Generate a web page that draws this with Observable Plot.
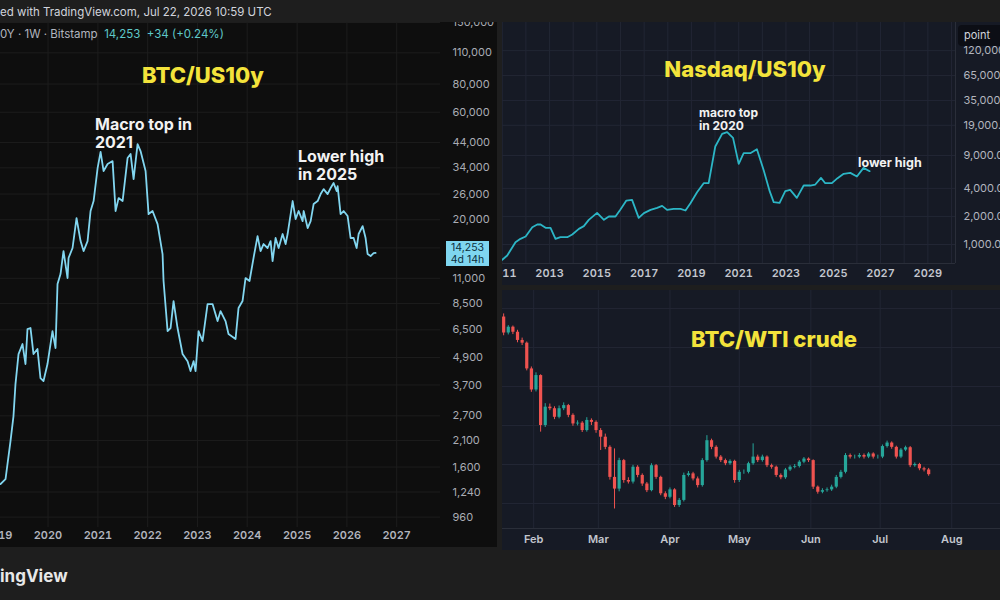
<!DOCTYPE html>
<html><head><meta charset="utf-8">
<script src="https://cdn.jsdelivr.net/npm/d3@7"></script>
<script src="https://cdn.jsdelivr.net/npm/@observablehq/plot@0.6"></script>
<style>
html,body{margin:0;padding:0;background:#1e1e1e;width:1000px;height:600px;overflow:hidden;font-family:Inter,Roboto,"Noto Sans",sans-serif;}
.panel{position:absolute;overflow:hidden;}
.ov{position:absolute;white-space:nowrap;}
.ann{position:absolute;white-space:nowrap;color:#f2f2f2;font-weight:700;}
.ttl{position:absolute;white-space:nowrap;color:#f3e33b;font-weight:800;font-size:22px;transform:translate(-50%,-50%);}
</style></head><body>
<div class="ov" style="left:0;top:5px;font-size:11.5px;color:#d1d4dc;">ed with TradingView.com, Jul 22, 2026 10:59 UTC</div>
<div id="left" class="panel" style="left:0;top:22px;width:497px;height:525px;background:#0e0e0e;"></div>
<div id="nas" class="panel" style="left:502px;top:22px;width:498px;height:263px;background:#161a25;"></div>
<div id="wti" class="panel" style="left:502px;top:290px;width:498px;height:260px;background:#161a25;"></div>
<div class="ov" style="left:0;top:566px;font-size:17px;font-weight:700;color:#e8e8e8;">ingView</div>
<script>
// ---------- DATA ----------
const btcYears = [2019.046,2019.147,2019.247,2019.307,2019.347,2019.408,2019.488,2019.548,2019.588,2019.649,2019.709,2019.789,2019.849,2019.910,2019.990,
2020.090,2020.151,2020.191,2020.251,2020.311,2020.392,2020.412,2020.492,2020.572,2020.653,2020.713,2020.793,2020.853,2020.914,2020.994,
2021.054,2021.114,2021.195,2021.295,2021.355,2021.416,2021.496,2021.596,2021.657,2021.717,2021.797,2021.857,2021.958,
2022.018,2022.098,2022.199,2022.299,2022.319,2022.400,2022.460,2022.520,2022.600,2022.701,2022.801,2022.861,2022.922,2022.962,
2023.022,2023.102,2023.203,2023.303,2023.404,2023.464,2023.564,2023.624,2023.765,2023.825,2023.906,2023.966,
2024.046,2024.126,2024.207,2024.267,2024.327,2024.408,2024.468,2024.508,2024.568,2024.629,2024.709,2024.769,2024.809,2024.910,2024.970,
2025.030,2025.110,2025.131,2025.211,2025.271,2025.331,2025.412,2025.472,2025.532,2025.612,2025.673,2025.733,2025.793,2025.813,2025.873,2025.934,
2026.014,2026.074,2026.135,2026.195,2026.235,2026.315,2026.375,2026.416,2026.476,2026.536,2026.576];
const btcValues = [1345,1415,2086,2694,3735,5075,5620,4582,6550,6619,5075,5340,3971,3851,4582,
6418,5395,10370,11490,14530,11030,13530,14990,20350,16090,14530,16090,21870,24220,33920,
40000,32900,35350,36420,21870,24960,24220,37560,39140,30310,43300,40350,32900,
21200,21870,19140,14090,10700,6418,6619,8720,6619,5075,4720,4265,4720,4265,
6418,5796,8457,8457,7107,7870,7107,6225,5915,8118,8720,11030,
10700,13530,16930,14530,15610,14990,16090,13120,16600,14990,17290,15610,17290,24220,20150,
21870,19730,21870,18380,19730,23480,24220,26000,27360,26000,27660,29110,26820,28220,21200,21870,
20780,16600,16600,14990,17290,18750,16600,14090,13800,14240,14253];
const btcTicks = [150000,110000,80000,60000,44000,34000,26000,20000,15000,11000,8500,6500,4900,3700,2700,2100,1600,1240,960];
const btcYearTicks = [2019,2020,2021,2022,2023,2024,2025,2026,2027];
const btcLast = 14253;

const nasYears = [2011.0,2011.21,2011.56,2011.77,2011.99,2012.27,2012.48,2012.62,2012.83,2013.04,2013.25,2013.46,2013.75,2013.96,
2014.24,2014.45,2014.66,2015.01,2015.30,2015.51,2015.79,2016.00,2016.25,2016.49,2016.77,2016.99,2017.27,2017.55,2017.76,2017.97,
2018.25,2018.54,2018.75,2018.96,2019.24,2019.52,2019.73,2020.01,2020.30,2020.51,2020.76,2021.00,2021.21,2021.49,2021.77,
2022.06,2022.31,2022.48,2022.73,2022.97,2023.18,2023.46,2023.75,2024.03,2024.24,2024.48,2024.66,2024.94,2025.18,2025.44,2025.72,
2026.00,2026.28,2026.54];
const nasValues = [685,762,1059,1150,1219,1534,1639,1639,1509,1509,1150,1198,1198,1280,
1472,1573,1838,2186,1838,1996,1996,2373,2963,3013,1931,2168,2354,2472,2598,2354,
2413,2413,2316,2775,3640,4546,4546,11240,15380,16020,13930,7330,9540,9540,10530,
6215,3732,2844,2798,3732,3857,3165,4292,4292,4399,5188,4546,4546,5144,5726,5869,
5360,6640,6115];
const nasTicks = [120000,65000,35000,19000,9000,4000,2000,1000];
const nasAxisYears = [2011,2013,2015,2017,2019,2021,2023,2025,2027,2029];
const nasGridYears = [2011,2012,2013,2014,2015,2016,2017,2018,2019,2020,2021,2022,2023,2024,2025,2026,2027,2028,2029,2030];

const wtiStart = "2026-01-19"; // first candle, candles every 2 days
const wtiOpen = [1478,1437,1452,1439,1418,1411,1345,1291,1328,1200,
1247,1243,1221,1243,1251,1226,1204,1206,1187,1213,
1208,1187,1170,1144,1067,1037,1110,1059,1055,1093,
1072,1050,1033,1097,1067,1025,1016,1035,995,1008,
1072,1076,1063,1046,1110,1161,1144,1119,1110,1102,
1108,1059,1080,1080,1102,1119,1110,1119,1097,1093,
1072,1066,1086,1093,1095,1106,1114,1110,1042,1029,
1033,1035,1042,1067,1080,1123,1119,1119,1123,1119,
1127,1119,1119,1146,1155,1144,1119,1137,1143,1097,
1100,1089,1086];
const wtiClose = [1437,1452,1439,1418,1411,1345,1291,1328,1200,1247,
1243,1221,1243,1251,1226,1204,1206,1187,1213,1208,
1187,1170,1144,1067,1037,1110,1059,1055,1093,1072,
1050,1033,1097,1067,1025,1016,1035,995,1008,1072,
1076,1063,1046,1110,1161,1144,1119,1110,1102,1108,
1059,1080,1080,1102,1119,1110,1119,1097,1093,1072,
1066,1086,1093,1095,1106,1114,1110,1042,1029,1033,
1035,1042,1067,1080,1123,1119,1119,1123,1119,1127,
1119,1119,1146,1155,1144,1119,1137,1143,1097,1100,
1089,1086,1074];
const wtiHigh = [1486,1456,1455,1444,1424,1414,1350,1335,1330,1256,
1255,1248,1250,1258,1254,1230,1212,1210,1220,1217,
1212,1192,1178,1148,1140,1116,1113,1066,1098,1097,
1076,1054,1102,1100,1070,1030,1040,1038,1013,1078,
1082,1080,1068,1115,1174,1165,1148,1123,1114,1112,
1111,1085,1086,1106,1153,1124,1124,1122,1101,1096,
1076,1090,1097,1100,1110,1118,1117,1112,1045,1038,
1040,1047,1072,1085,1128,1127,1124,1128,1127,1131,
1130,1124,1150,1160,1158,1147,1141,1147,1146,1104,
1103,1093,1090];
const wtiLow = [1430,1432,1433,1412,1405,1340,1285,1286,1183,1195,
1238,1215,1217,1238,1220,1198,1199,1182,1183,1200,
1180,1136,1138,1060,986,1030,1052,1050,1050,1066,
1044,1028,1030,1062,1020,1010,1012,990,990,1004,
1068,1058,1040,1042,1106,1138,1114,1105,1097,1098,
1052,1054,1075,1076,1098,1105,1106,1092,1088,1067,
1061,1062,1082,1089,1091,1102,1105,1036,1024,1025,
1029,1031,1038,1063,1076,1114,1114,1115,1114,1115,
1114,1114,1115,1142,1139,1114,1115,1133,1092,1093,
1084,1081,1070];
const wtiMonths = ["2026-02-01","2026-03-01","2026-04-01","2026-05-01","2026-06-01","2026-07-01","2026-08-01"];
const wtiGridValues = [1000,1100,1200,1300,1400,1500];

// ---------- HELPERS ----------
const yd = y => { const yr = Math.floor(y); const s = Date.UTC(yr,0,1), e = Date.UTC(yr+1,0,1); return new Date(s + (y-yr)*(e-s)); };
const font = "Inter, Roboto, sans-serif";
const DAY = 86400000;

// ---------- LEFT: BTC/US10y ----------
const btc = btcYears.map((y,i)=>({date: yd(y), value: btcValues[i]}));
const btcYearDates = btcYearTicks.map(y=>yd(y));
const leftPlot = Plot.plot({
  width: 497, height: 525, marginLeft: 0, marginRight: 57, marginTop: 0, marginBottom: 20,
  style: {background: "transparent", color: "#b2b5be", fontFamily: font, fontSize: "11px", overflow: "hidden"},
  x: {type: "utc", domain: [yd(2019.046), yd(2027.88)]},
  y: {type: "log", domain: [863, 150000], axis: null},
  marks: [
    Plot.gridY(btcTicks, {stroke: "#1d1d1d", strokeOpacity: 1}),
    Plot.gridX(btcYearDates, {stroke: "#1d1d1d", strokeOpacity: 1}),
    Plot.axisX(btcYearDates, {tickSize: 0, tickPadding: 4, tickFormat: d3.utcFormat("%Y"), fontWeight: 600, fill: "#b2b5be", label: null}),
    Plot.text(btcTicks, {y: d => d, text: d => d3.format(",")(d), frameAnchor: "right", textAnchor: "start", dx: 12, fill: "#a9acb4"}),
    Plot.line(btc, {x: "date", y: "value", stroke: "#82d6f0", strokeWidth: 1.8})
  ]
});
document.getElementById("left").appendChild(leftPlot);
const ly = leftPlot.scale("y").apply(btcLast);
const box = document.createElement("div");
box.className = "ov";
box.style.cssText = `left:446px;top:${ly-11}px;width:43px;height:25px;background:#7fd6f0;color:#0d2f3d;font-size:10.5px;line-height:12px;text-align:center;padding-top:1px;box-sizing:border-box;`;
box.innerHTML = d3.format(",")(btcLast) + "<br>4d 14h";
document.getElementById("left").appendChild(box);

// ---------- TOP RIGHT: Nasdaq/US10y ----------
const nas = nasYears.map((y,i)=>({date: yd(y), value: nasValues[i]}));
const nasPlot = Plot.plot({
  width: 498, height: 263, marginLeft: 0, marginRight: 45, marginTop: 0, marginBottom: 22,
  style: {background: "transparent", color: "#b2b5be", fontFamily: font, fontSize: "11px", overflow: "hidden"},
  x: {type: "utc", domain: [yd(2011.01), yd(2030.17)]},
  y: {type: "log", domain: [625.6, 240400], axis: null},
  marks: [
    Plot.gridY(nasTicks, {stroke: "#222634", strokeOpacity: 1}),
    Plot.gridX(nasGridYears.map(yd), {stroke: "#222634", strokeOpacity: 1}),
    Plot.ruleY([625.6], {stroke: "#2a2e39"}),
    Plot.ruleX([yd(2030.17)], {stroke: "#2a2e39"}),
    Plot.axisX(nasAxisYears.map(yd), {tickSize: 0, tickPadding: 6, tickFormat: d3.utcFormat("%Y"), fontWeight: 600, fill: "#c3c6ce", label: null}),
    Plot.text(nasTicks, {y: d => d, text: d => d3.format(",.2f")(d), frameAnchor: "right", textAnchor: "start", dx: 8, fill: "#b2b5be"}),
    Plot.line(nas, {x: "date", y: "value", stroke: "#2cb6c6", strokeWidth: 1.8})
  ]
});
document.getElementById("nas").appendChild(nasPlot);

// ---------- BOTTOM RIGHT: BTC/WTI crude ----------
const t0 = new Date(wtiStart + "T00:00:00Z").getTime();
const candles = wtiOpen.map((o,i)=>({date: new Date(t0 + 2*i*DAY), open: o, close: wtiClose[i], high: wtiHigh[i], low: wtiLow[i],
  col: wtiClose[i] >= o ? "#26a69a" : "#ef5350"}));
const xStart = new Date(t0 - 0.5*DAY);
const xEnd = new Date(t0 - 0.5*DAY + 215.6*DAY);
const wtiPlot = Plot.plot({
  width: 498, height: 260, marginLeft: 0, marginRight: 0, marginTop: 0, marginBottom: 22,
  style: {background: "transparent", color: "#b2b5be", fontFamily: font, fontSize: "11px", overflow: "hidden"},
  x: {type: "utc", domain: [xStart, xEnd]},
  y: {domain: [936, 1546], axis: null},
  color: {type: "identity"},
  marks: [
    Plot.gridY(wtiGridValues, {stroke: "#222634", strokeOpacity: 1}),
    Plot.gridX(wtiMonths.map(d=>new Date(d)), {stroke: "#222634", strokeOpacity: 1}),
    Plot.ruleY([936], {stroke: "#2a2e39"}),
    Plot.axisX(wtiMonths.map(d=>new Date(d)), {tickSize: 0, tickPadding: 7, tickFormat: d3.utcFormat("%b"), fontWeight: 600, fill: "#c3c6ce", label: null}),
    Plot.ruleX(candles, {x: "date", y1: "low", y2: "high", stroke: "col", strokeWidth: 1}),
    Plot.ruleX(candles, {x: "date", y1: "open", y2: "close", stroke: "col", strokeWidth: 3.2})
  ]
});
document.getElementById("wti").appendChild(wtiPlot);
</script>
<div class="ov" style="left:0;top:27px;font-size:11.5px;color:#b2b5be;">0Y · 1W · Bitstamp&nbsp;&nbsp;<span style="color:#5ec8c9">14,253</span>&nbsp;&nbsp;<span style="color:#5ec8c9">+34 (+0.24%)</span></div>
<div class="ttl" style="left:203px;top:75px;">BTC/US10y</div>
<div class="ann" style="left:95px;top:115px;font-size:16px;line-height:18px;">Macro top in<br>2021</div>
<div class="ann" style="left:298px;top:147px;font-size:16px;line-height:18px;">Lower high<br>in 2025</div>
<div class="ttl" style="left:745px;top:69px;">Nasdaq/US10y</div>
<div class="ann" style="left:699px;top:107px;font-size:12px;line-height:12.5px;">macro top<br>in 2020</div>
<div class="ann" style="left:858px;top:155px;font-size:12.5px;">lower high</div>
<div class="ttl" style="left:774px;top:339px;">BTC/WTI crude</div>
<div class="ov" style="left:958px;top:25px;width:42px;height:21px;background:#0c0e15;border-radius:4px 0 0 4px;color:#d1d4dc;font-size:11px;line-height:21px;padding-left:6px;box-sizing:border-box;">point</div>
</body></html>
